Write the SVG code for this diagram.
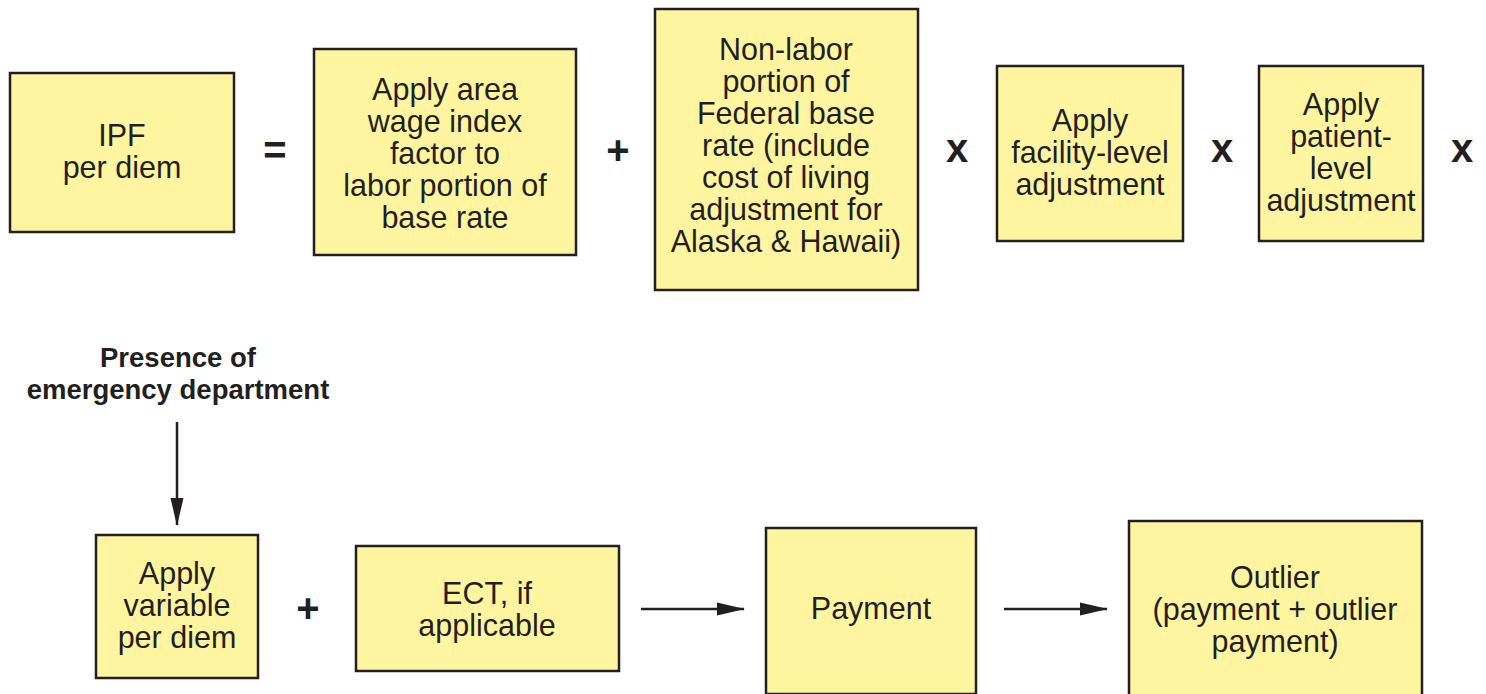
<svg xmlns="http://www.w3.org/2000/svg" width="1486" height="694" viewBox="0 0 1486 694">
  <style>
    .box { fill: #fff5a0; stroke: #231f20; stroke-width: 2.5; }
    .t { font-family: "Liberation Sans", Arial, sans-serif; font-size: 30.5px; fill: #231f20; text-anchor: middle; }
    .op { font-family: "Liberation Sans", Arial, sans-serif; font-size: 40px; font-weight: bold; fill: #231f20; text-anchor: middle; }
    .lbl { font-family: "Liberation Sans", Arial, sans-serif; font-size: 27.5px; font-weight: bold; fill: #231f20; text-anchor: middle; }
    .conn { stroke: #231f20; stroke-width: 2.5; fill: none; marker-end: url(#arrow); }
  </style>
  <defs>
    <marker id="arrow" viewBox="0 0 28 14" refX="27" refY="7" markerWidth="28" markerHeight="14" markerUnits="userSpaceOnUse" orient="auto">
      <path d="M0,0.5 L28,7 L0,13.5 z" fill="#231f20"/>
    </marker>
  </defs>
  <rect width="1486" height="694" fill="#ffffff"/>

  <g id="ipf">
    <rect class="box" x="10" y="73" width="224" height="159"/>
    <text class="t" x="122" y="146">IPF</text>
    <text class="t" x="122" y="178">per diem</text>
  </g>

  <g id="wage-index">
    <rect class="box" x="314" y="49" width="262" height="206"/>
    <text class="t" x="445" y="100">Apply area</text>
    <text class="t" x="445" y="132">wage index</text>
    <text class="t" x="445" y="164">factor to</text>
    <text class="t" x="445" y="196">labor portion of</text>
    <text class="t" x="445" y="228">base rate</text>
  </g>

  <g id="non-labor">
    <rect class="box" x="655" y="9" width="263" height="281"/>
    <text class="t" x="786" y="60">Non-labor</text>
    <text class="t" x="786" y="92">portion of</text>
    <text class="t" x="786" y="124">Federal base</text>
    <text class="t" x="786" y="156">rate (include</text>
    <text class="t" x="786" y="188">cost of living</text>
    <text class="t" x="786" y="220">adjustment for</text>
    <text class="t" x="786" y="252">Alaska &amp; Hawaii)</text>
  </g>

  <g id="facility">
    <rect class="box" x="997" y="66" width="186" height="175"/>
    <text class="t" x="1090" y="131">Apply</text>
    <text class="t" x="1090" y="163">facility-level</text>
    <text class="t" x="1090" y="195">adjustment</text>
  </g>

  <g id="patient">
    <rect class="box" x="1259" y="66" width="164" height="175"/>
    <text class="t" x="1341" y="115">Apply</text>
    <text class="t" x="1341" y="147">patient-</text>
    <text class="t" x="1341" y="179">level</text>
    <text class="t" x="1341" y="211">adjustment</text>
  </g>

  <g id="operators">
    <text class="op" x="275" y="164">=</text>
    <text class="op" x="618" y="164">+</text>
    <text class="op" x="957" y="162">x</text>
    <text class="op" x="1222" y="162">x</text>
    <text class="op" x="1462" y="162">x</text>
    <text class="op" x="308" y="622">+</text>
  </g>

  <g id="emergency-label">
    <text class="lbl" x="178" y="367">Presence of</text>
    <text class="lbl" x="178" y="399">emergency department</text>
  </g>

  <g id="variable-per-diem">
    <rect class="box" x="96" y="535" width="162" height="143"/>
    <text class="t" x="177" y="584">Apply</text>
    <text class="t" x="177" y="616">variable</text>
    <text class="t" x="177" y="648">per diem</text>
  </g>

  <g id="ect">
    <rect class="box" x="356" y="546" width="263" height="125"/>
    <text class="t" x="487" y="604">ECT, if</text>
    <text class="t" x="487" y="636">applicable</text>
  </g>

  <g id="payment">
    <rect class="box" x="766" y="528" width="210" height="166"/>
    <text class="t" x="871" y="619">Payment</text>
  </g>

  <g id="outlier">
    <rect class="box" x="1129" y="521" width="293" height="175"/>
    <text class="t" x="1275" y="588">Outlier</text>
    <text class="t" x="1275" y="620">(payment + outlier</text>
    <text class="t" x="1275" y="652">payment)</text>
  </g>

  <g id="connectors">
    <line class="conn" x1="177" y1="422" x2="177" y2="525"/>
    <line class="conn" x1="641" y1="609" x2="744" y2="609"/>
    <line class="conn" x1="1004" y1="609" x2="1107" y2="609"/>
  </g>
</svg>
